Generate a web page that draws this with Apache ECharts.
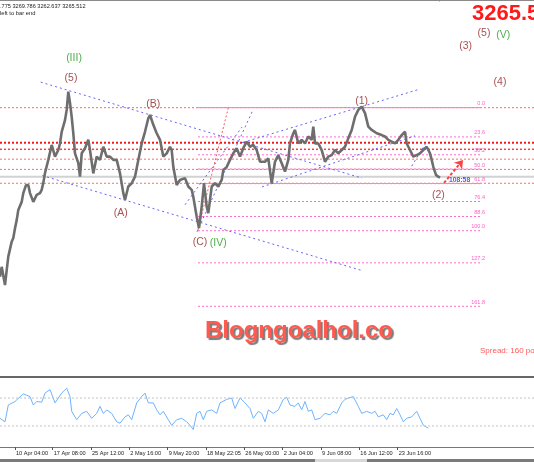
<!DOCTYPE html>
<html>
<head>
<meta charset="utf-8">
<script src="https://cdn.jsdelivr.net/npm/echarts@6/dist/echarts.min.js"></script>
<style>
html, body { margin: 0; padding: 0; background: #fff; }
#chart { width: 534px; height: 462px; }
</style>
</head>
<body>
<div id="chart"></div>
<script>
// price path (bar position, price)
var priceBars = [0,1.7,5,6.7,8.3,11.7,13.3,15,16.7,18.3,21.7,23.3,26,28.3,30,33.3,36.7,40,41.7,43.3,
  45,46.7,48.3,51.7,55,58.3,60,61.7,65,66.7,68.3,70,71.7,73.3,75,78.3,80,81.7,85,88.3,
  90,93.3,96.7,100,103.3,106.7,110,113.3,116.7,120,123.3,125,128.3,131.7,135,138.3,141.7,145,148.3,150,
  153.3,156.7,160,163.3,166.7,170,171.7,173.3,176.7,180,185,188.3,191.7,193.3,196.7,199,201.7,204,206.7,208.3,
  211.7,215,218.3,221.7,223.3,226.7,230,233.3,236.7,240,243.3,246.7,250,253.3,256.7,260,265,268.3,271.7,275,
  278.3,281.7,285,288.3,290,293.3,295,298.3,301.7,305,308.3,311.7,313.3,315,318.3,321.7,325,328.3,331.7,335,
  338.3,341.7,345,348.3,351.7,355,358.3,361.7,365,368.3,371.7,376.7,381.7,385,388.3,391.7,395,398.3,401.7,405,
  406.7,410,413.3,416.7,420,423.3,426.7,430,431.7,433.3,436,438.3,440];
var priceClose = [2992,3019,2969,3010,3047,3088,3098,3125,3147,3175,3197,3221,3243,3243,3221,3197,3216,3221,3230,3249,
  3276,3275,3312,3353,3321,3339,3357,3389,3421,3449,3499,3468,3430,3385,3330,3303,3266,3330,3344,3367,
  3339,3275,3321,3312,3348,3321,3321,3312,3312,3275,3221,3202,3239,3248,3266,3312,3357,3389,3426,3435,
  3408,3385,3367,3321,3330,3348,3339,3293,3243,3257,3262,3239,3230,3211,3156,3125,3184,3248,3184,3166,
  3239,3248,3239,3257,3284,3293,3312,3330,3344,3321,3344,3362,3348,3353,3339,3307,3307,3316,3248,3307,
  3325,3303,3280,3312,3357,3385,3394,3357,3367,3357,3376,3367,3403,3357,3357,3339,3307,3321,3325,3339,
  3330,3339,3348,3371,3394,3430,3449,3458,3440,3403,3394,3385,3380,3376,3367,3362,3357,3367,3380,3389,
  3357,3339,3321,3325,3330,3339,3348,3330,3312,3293,3271,3266,3263];

// oscillator in lower window
var rsiBars = [0,5,8.3,15,23.3,30,33.3,36.7,41.7,45,50,55,61.7,66.7,70,71.7,76.7,81.7,86.7,91.7,
  96.7,100,103.3,106.7,111.7,116.7,120,125,128.3,131.7,136.7,141.7,145,148.3,153.3,156.7,160,163.3,168.3,171.7,
  176.7,181.7,186.7,190,193.3,196.7,200,203.3,206.7,211.7,216.7,220,226.7,231.7,235,240,245,250,253.3,258.3,
  261.7,265,268.3,273.3,278.3,283.3,286.7,290,295,298.3,301.7,305,308.3,311.7,315,320,325,330,333.3,336.7,
  341.7,345,348.3,353.3,355,358.3,361.7,366.7,371.7,375,378.3,383.3,386.7,390,393.3,396.7,400,403.3,406.7,411.7,
  416.7,420,423.3,428.3];
var rsiValues = [41,36,60,65,76,72,60,65,64,77,82,63,77,84,72,51,39,48,51,41,
  48,58,48,53,48,36,34,43,46,39,63,72,77,63,63,53,46,51,39,31,
  39,41,36,31,25,48,51,39,51,53,48,63,68,70,55,70,63,55,41,51,
  48,36,53,48,53,68,71,60,58,63,53,65,51,53,39,41,48,46,51,48,
  63,68,70,72,70,58,48,51,48,51,43,46,39,48,46,55,46,36,41,43,
  51,41,31,27];
var rsiLevels = [70, 30];

// time axis
var timeBars = [15, 52.7, 91, 129.3, 167.7, 206, 244.3, 282.7, 321, 359.3, 397.7];
var timeLabels = ['10 Apr 04:00', '17 Apr 08:00', '25 Apr 12:00', '2 May 16:00', '9 May 20:00',
  '18 May 22:05', '26 May 00:00', '2 Jun 04:00', '9 Jun 08:00', '16 Jun 12:00', '23 Jun 16:00'];

// horizontal levels
var strongLevels = [3359, 3341];
var lightLevels = [3455, 3314, 3286, 3248];
var bidPrice = 3265.5;
var fibNames = ['0.0', '23.6', '38.2', '50.0', '61.8', '76.4', '88.6', '100.0', '127.2', '161.8'];
var fibPrices = [3455, 3375, 3326, 3287, 3247, 3198, 3157, 3118, 3030, 2911];
var fibFrom = 198, fibTo = 480;
var chartStart = 0, chartEnd = 534;

// trend lines [bar1, price1, bar2, price2]
var blueLines = [
  [40.7, 3525, 362, 3262],
  [42.3, 3269, 363, 3008],
  [197, 3115, 253, 3449],
  [185, 3189, 242, 3402],
  [243, 3360, 420, 3506],
  [262, 3238, 415, 3378],
  [411.7, 3295, 426.7, 3362]
];
var fibDiagonal = [198, 3120, 228.3, 3455];
var arrowLine = [444, 3249, 463, 3312];

// wave labels
var waveNames = ['(III)', '(5)', '(B)', '(A)', '(C)', '(IV)', '(1)', '(2)', '(3)', '(5)', '(V)', '(4)'];
var waveBars = [74, 71, 153.3, 120.7, 200, 218.3, 361.7, 438.3, 465.7, 484, 503.3, 500];
var wavePrices = [3591, 3536, 3464, 3166, 3088, 3084, 3473, 3216, 3624, 3660, 3654, 3526];
var waveGreen = ['(III)', '(IV)', '(V)'];

var chart = echarts.init(document.getElementById('chart'));

var pricePoints = priceBars.map(function (b, i) { return [b, priceClose[i]]; });
var rsiPoints = rsiBars.map(function (b, i) { return [b, rsiValues[i]]; });

function segment(x1, y1, x2, y2, style, extra) {
  var s = {
    type: 'line', xAxisIndex: 0, yAxisIndex: 0, silent: true, symbol: 'none',
    data: [[x1, y1], [x2, y2]], lineStyle: style
  };
  if (extra) { for (var k in extra) s[k] = extra[k]; }
  return s;
}

var series = [];
lightLevels.forEach(function (p) {
  series.push(segment(chartStart, p, chartEnd, p, { color: '#ff6a6a', width: 1, type: [2, 2] }));
});
strongLevels.forEach(function (p, i) {
  series.push(segment(chartStart, p, chartEnd, p, { color: i === 0 ? '#f01818' : '#ff3a3a', width: i === 0 ? 2 : 1.5, type: [2, 2] }));
});
series.push(segment(chartStart, bidPrice, chartEnd, bidPrice, { color: '#d2d2d2', width: 2 }));

fibPrices.forEach(function (p, i) {
  series.push(segment(fibFrom, p, fibTo, p, { color: '#ff6ccc', width: 1, type: [2, 2] }, {
    endLabel: {
      show: true, formatter: fibNames[i], color: '#ff5fc8', fontSize: 5.5,
      fontFamily: 'Liberation Sans', align: 'right', verticalAlign: 'bottom', offset: [-3, -1]
    }
  }));
});

blueLines.forEach(function (l) {
  series.push(segment(l[0], l[1], l[2], l[3], { color: '#6464ff', width: 1, type: [2, 3] }));
});
series.push(segment(fibDiagonal[0], fibDiagonal[1], fibDiagonal[2], fibDiagonal[3], { color: '#ff5a5a', width: 1, type: [2, 2] }));

series.push({
  type: 'line', xAxisIndex: 0, yAxisIndex: 0, silent: true, symbol: 'none',
  data: pricePoints,
  lineStyle: { color: '#6e6e6e', width: 2.6, join: 'bevel' },
  z: 5
});

series.push({
  type: 'lines', coordinateSystem: 'cartesian2d', xAxisIndex: 0, yAxisIndex: 0, silent: true,
  symbol: ['none', 'arrow'], symbolSize: 8,
  data: [{ coords: [[arrowLine[0], arrowLine[1]], [arrowLine[2], arrowLine[3]]] }],
  lineStyle: { color: '#ff4040', width: 2, type: [3, 2], opacity: 1 },
  z: 6
});

series.push({
  type: 'scatter', xAxisIndex: 0, yAxisIndex: 0, silent: true,
  symbolSize: 0,
  data: waveNames.map(function (n, i) {
    return {
      value: [waveBars[i], wavePrices[i]],
      label: { formatter: n, color: waveGreen.indexOf(n) >= 0 ? '#1f9a1f' : '#8e2323' }
    };
  }),
  label: { show: true, position: 'inside', fontSize: 10.5, fontFamily: 'Liberation Sans' },
  z: 7
});

series.push({
  type: 'scatter', xAxisIndex: 0, yAxisIndex: 0, silent: true,
  symbolSize: 0,
  data: [{ value: [449, 3257] }],
  label: { show: true, position: 'right', distance: 0, formatter: '108:58', color: '#2b2bff', fontSize: 6.8, fontWeight: 'bold', fontFamily: 'Liberation Sans' },
  z: 8
});

series.push({
  type: 'line', xAxisIndex: 1, yAxisIndex: 1, silent: true, symbol: 'none',
  data: rsiPoints,
  lineStyle: { color: '#6fb2ff', width: 1 }
});
rsiLevels.forEach(function (v) {
  series.push({
    type: 'line', xAxisIndex: 1, yAxisIndex: 1, silent: true, symbol: 'none',
    data: [[chartStart, v], [chartEnd, v]],
    lineStyle: { color: '#c4c4c4', width: 1, type: [2, 2] }
  });
});

chart.setOption({
  animation: false,
  backgroundColor: '#ffffff',
  grid: [
    { left: 0, right: 0, top: 0, height: 376 },
    { left: 0, right: 0, top: 377, height: 70 }
  ],
  xAxis: [
    {
      gridIndex: 0, type: 'value', min: chartStart, max: chartEnd, position: 'top',
      axisLine: { show: true, onZero: false, lineStyle: { color: '#8a8a8a', width: 1 } },
      axisTick: { show: false }, axisLabel: { show: false }, splitLine: { show: false }
    },
    {
      gridIndex: 1, type: 'value', min: chartStart, max: chartEnd, position: 'bottom',
      axisLine: { show: true, onZero: false, lineStyle: { color: '#777', width: 1 } },
      axisTick: { show: true, customValues: timeBars, length: 3, lineStyle: { color: '#555' } },
      axisLabel: {
        show: true, customValues: timeBars, align: 'left', margin: 3, padding: [0, 0, 0, 1],
        fontSize: 5.6, color: '#222', fontFamily: 'Liberation Sans',
        formatter: function (v) { return timeLabels[timeBars.indexOf(v)] || ''; }
      },
      splitLine: { show: false }
    },
    {
      gridIndex: 1, type: 'value', min: chartStart, max: chartEnd, position: 'top',
      axisLine: { show: true, onZero: false, lineStyle: { color: '#666', width: 2 } },
      axisTick: { show: false }, axisLabel: { show: false }, splitLine: { show: false }
    }
  ],
  yAxis: [
    { gridIndex: 0, type: 'value', min: 2720, max: 3750, show: false },
    { gridIndex: 1, type: 'value', min: 0, max: 100, show: false }
  ],
  graphic: [
    { type: 'text', left: 0, top: 3, style: { text: '.775 3269.786 3262.637 3265.512', fontSize: 5.6, fill: '#222', fontFamily: 'Liberation Sans' } },
    { type: 'text', left: 0, top: 10.5, style: { text: 'left to bar end', fontSize: 5.8, fill: '#222', fontFamily: 'Liberation Sans' } },
    { type: 'text', left: 436, top: -3, style: { text: '▼', fontSize: 7, fill: '#999' } },
    { type: 'text', left: 472, top: 3, style: { text: '3265.5', fontSize: 22, fontWeight: 'bold', fill: '#ff1a1a', fontFamily: 'Liberation Sans' } },
    { type: 'text', left: 480, top: 347, style: { text: 'Spread: 160 points', fontSize: 8, fill: '#ff5a5a', fontFamily: 'Liberation Sans' } },
    {
      type: 'text', left: 205, top: 319,
      style: {
        text: 'Blogngoalhol.co', fontSize: 24, fontWeight: 'bold', fill: '#ff5a50', fontFamily: 'Liberation Sans',
        textShadowColor: 'rgba(90,90,90,0.8)', textShadowOffsetX: 2, textShadowOffsetY: 2, textShadowBlur: 1
      }
    },
    { type: 'rect', left: 0, top: 459, shape: { width: 534, height: 3 }, style: { fill: '#7a7a7a' } },
    { type: 'rect', left: 315, top: 459, shape: { width: 52, height: 3 }, style: { fill: '#d8d8d8' } }
  ],
  series: series
});
</script>
</body>
</html>
